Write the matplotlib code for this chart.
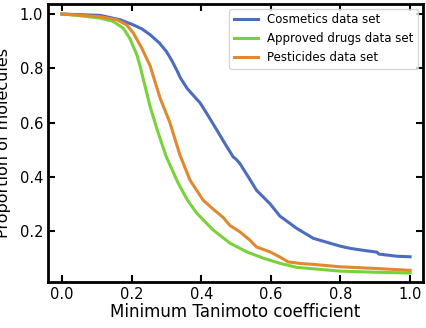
import matplotlib
matplotlib.use("Agg")
import matplotlib.pyplot as plt

# Data
cos_x = [0, 0.05, 0.11, 0.167, 0.205, 0.23, 0.253, 0.28, 0.30, 0.315, 0.333, 0.34, 0.36, 0.397,
         0.42, 0.445, 0.474, 0.492, 0.50, 0.511, 0.54, 0.559, 0.598, 0.626, 0.674, 0.722, 0.77,
         0.80, 0.828, 0.87, 0.905, 0.91, 0.962, 1.0]
cos_y = [1.0, 0.998, 0.995, 0.979, 0.96, 0.945, 0.924, 0.893, 0.862, 0.83, 0.785, 0.765, 0.725, 0.672,
         0.625, 0.572, 0.51, 0.473, 0.465, 0.449, 0.39, 0.35, 0.30, 0.255, 0.21, 0.173, 0.155,
         0.144, 0.136, 0.128, 0.122, 0.115, 0.107, 0.105]

drug_x = [0, 0.05, 0.11, 0.147, 0.176, 0.195, 0.215, 0.224, 0.253, 0.272, 0.29, 0.30, 0.334,
          0.36, 0.387, 0.435, 0.483, 0.531, 0.578, 0.626, 0.674, 0.8, 0.9, 1.0]
drug_y = [1.0, 0.994, 0.985, 0.973, 0.948, 0.91, 0.85, 0.81, 0.66, 0.58, 0.51, 0.473, 0.376,
          0.315, 0.266, 0.203, 0.155, 0.123, 0.10, 0.081, 0.066, 0.052, 0.048, 0.045]

pest_x = [0, 0.05, 0.11, 0.158, 0.186, 0.205, 0.229, 0.253, 0.282, 0.31, 0.322, 0.339, 0.368,
          0.406, 0.435, 0.463, 0.483, 0.511, 0.54, 0.559, 0.598, 0.626, 0.65, 0.686, 0.722,
          0.8, 0.9, 1.0]
pest_y = [1.0, 0.996, 0.99, 0.979, 0.96, 0.93, 0.875, 0.81, 0.69, 0.60, 0.55, 0.48, 0.387,
          0.313, 0.28, 0.25, 0.22, 0.197, 0.166, 0.141, 0.123, 0.104, 0.086, 0.08, 0.077,
          0.068, 0.062, 0.055]

labels = ["Cosmetics data set", "Approved drugs data set", "Pesticides data set"]
colors = ["#4c6cc0", "#78d23c", "#e0892e"]

fig = plt.figure(figsize=(4.26, 3.28), dpi=100)
ax = fig.add_axes([48/426, 1-282/328, (423-48)/426, (282-4)/328])

ax.plot(cos_x, cos_y, color=colors[0], lw=2.2, label=labels[0])
ax.plot(drug_x, drug_y, color=colors[1], lw=2.2, label=labels[1])
ax.plot(pest_x, pest_y, color=colors[2], lw=2.2, label=labels[2])

ax.set_xlim(-0.04, 1.037)
ax.set_ylim(0.012, 1.037)
ax.set_xticks([0.0, 0.2, 0.4, 0.6, 0.8, 1.0])
ax.set_yticks([0.2, 0.4, 0.6, 0.8, 1.0])
ax.tick_params(direction="in", top=True, right=True, length=5, width=1.5, labelsize=10.5)
for s in ax.spines.values():
    s.set_linewidth(2)
ax.set_xlabel("Minimum Tanimoto coefficient", fontsize=12, labelpad=1)
ax.set_ylabel("Proportion of molecules", fontsize=11.5, labelpad=6)
ax.legend(loc="upper right", fontsize=8.5, frameon=True, borderaxespad=0.4)

fig.savefig("out.png", dpi=100)
